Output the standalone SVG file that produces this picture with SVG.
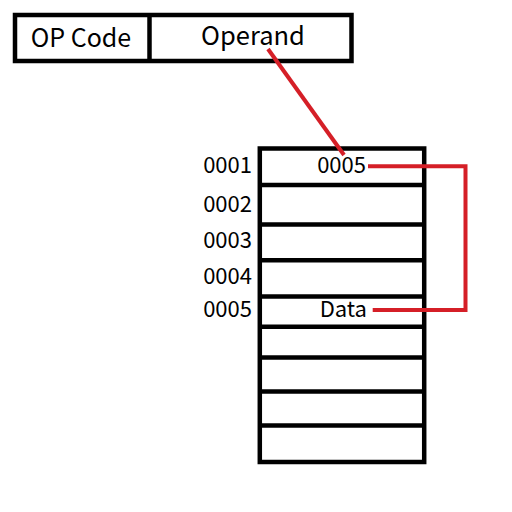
<svg xmlns="http://www.w3.org/2000/svg" width="512" height="512" viewBox="0 0 512 512">
<style>
.box{fill:#fff;stroke:#000;stroke-width:4.5}
.ln{stroke:#000;stroke-width:4.5}
.t{font-family:"Noto Sans CJK JP","Noto Sans",sans-serif;fill:#000}
.addr{font-size:22px;text-anchor:end}
.red{fill:none;stroke:#d51f27;stroke-width:4}
</style>
<rect width="512" height="512" fill="#fff"/>
<g id="instruction">
<rect class="box" x="15" y="15" width="336.5" height="46"/>
<line class="ln" x1="149.5" y1="15" x2="149.5" y2="61"/>
<text class="t" x="81" y="47.3" font-size="25" text-anchor="middle">OP Code</text>
<text class="t" x="253" y="45" font-size="25.5" text-anchor="middle">Operand</text>
</g>
<g id="memory">
<rect class="box" x="259.8" y="148.5" width="164.4" height="313.5"/>
<line class="ln" x1="259.8" y1="185" x2="424.2" y2="185"/>
<line class="ln" x1="259.8" y1="224.5" x2="424.2" y2="224.5"/>
<line class="ln" x1="259.8" y1="260.3" x2="424.2" y2="260.3"/>
<line class="ln" x1="259.8" y1="296.5" x2="424.2" y2="296.5"/>
<line class="ln" x1="259.8" y1="326.7" x2="424.2" y2="326.7"/>
<line class="ln" x1="259.8" y1="357.5" x2="424.2" y2="357.5"/>
<line class="ln" x1="259.8" y1="391.5" x2="424.2" y2="391.5"/>
<line class="ln" x1="259.8" y1="425.5" x2="424.2" y2="425.5"/>
<text class="t" x="366" y="173" font-size="22" text-anchor="end">0005</text>
<text class="t" x="367" y="317" font-size="22" text-anchor="end">Data</text>
</g>
<g id="addresses">
<text class="t addr" x="252" y="173">0001</text>
<text class="t addr" x="252" y="211.5">0002</text>
<text class="t addr" x="252" y="248">0003</text>
<text class="t addr" x="252" y="284">0004</text>
<text class="t addr" x="252" y="317">0005</text>
</g>
<g id="connectors">
<line class="red" x1="268" y1="49" x2="344" y2="155"/>
<polyline class="red" points="368,166.3 465.5,166.3 465.5,310 372.7,310"/>
</g>
</svg>
